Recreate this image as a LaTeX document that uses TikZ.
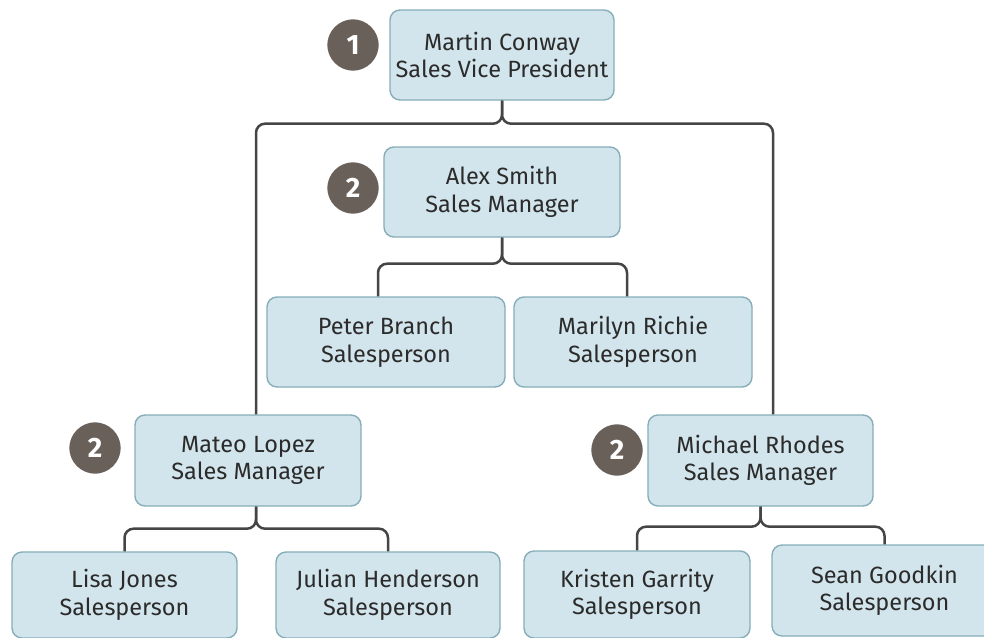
\documentclass[tikz,border=0pt]{standalone}
\usepackage{fontspec}
\setmainfont{Fira Sans}
\usetikzlibrary{calc}
\definecolor{boxfill}{HTML}{D3E5EC}
\definecolor{boxline}{HTML}{86ADB8}
\definecolor{linkline}{HTML}{454545}
\definecolor{badgefill}{HTML}{6A605A}
\definecolor{txt}{HTML}{2B2B2B}
\begin{document}
\begin{tikzpicture}[x=1pt,y=-1pt,
  person/.style={draw=boxline, line width=1.4pt, fill=boxfill, rounded corners=10pt,
    minimum width=#1, minimum height=90pt, inner sep=0pt, align=center,
    text=txt, font=\fontsize{23.5}{27.5}\selectfont},
  person/.default=226pt,
  conn/.style={draw=linkline, line width=2.5pt, rounded corners=9pt},
  badge/.style={circle, fill=badgefill, draw=white, line width=1.5pt,
    minimum size=53pt, inner sep=0pt, text=white,
    font=\fontsize{28}{28}\selectfont\bfseries}]
\useasboundingbox (0,0) rectangle (984,637);
\begin{scope}
\clip (0,0) rectangle (984,637);

% managers and staff
\node[person=224pt] (martin) at (502,55) {Martin Conway\\Sales Vice President};
\node[person=236pt] (alex) at (502,192) {Alex Smith\\Sales Manager};
\node[person=238pt] (peter) at (386,342) {Peter Branch\\Salesperson};
\node[person=238pt] (marilyn) at (633,342) {Marilyn Richie\\Salesperson};
\node[person=226pt, minimum height=91pt] (mateo) at (248,460.5) {Mateo Lopez\\Sales Manager};
\node[person=225pt, minimum height=91pt] (michael) at (760.5,460.5) {Michael Rhodes\\Sales Manager};
\node[person=225pt, minimum height=86pt] (lisa) at (124.5,595) {Lisa Jones\\Salesperson};
\node[person=224pt, minimum height=86pt] (julian) at (388,595) {Julian Henderson\\Salesperson};
\node[person=226pt, minimum height=87pt] (kristen) at (637,594.5) {Kristen Garrity\\Salesperson};
\node[person=225pt, minimum height=91pt] (sean) at (884.5,590.5) {Sean Goodkin\\Salesperson};

% level badges
\node[badge] (b1) at (353,45) {1};
\node[badge] (b2a) at (353,188) {2};
\node[badge] (b2b) at (95,448) {2};
\node[badge] (b2c) at (617,450) {2};

% reporting lines
\draw[conn] (martin.south) -- ++(0,23) -| ([xshift=8pt]mateo.north);
\draw[conn] (martin.south) -- ++(0,23) -| ([xshift=12.5pt]michael.north);
\draw[conn] (alex.south) -- ++(0,26) -| ([xshift=-8pt]peter.north);
\draw[conn] (alex.south) -- ++(0,26) -| ([xshift=-6pt]marilyn.north);
\draw[conn] ([xshift=8pt]mateo.south) -- ++(0,22) -| (lisa.north);
\draw[conn] ([xshift=8pt]mateo.south) -- ++(0,22) -| (julian.north);
\draw[conn] (michael.south) -- ++(0,20) -| (kristen.north);
\draw[conn] (michael.south) -- ++(0,20) -| (sean.north);
\end{scope}
\end{tikzpicture}
\end{document}
